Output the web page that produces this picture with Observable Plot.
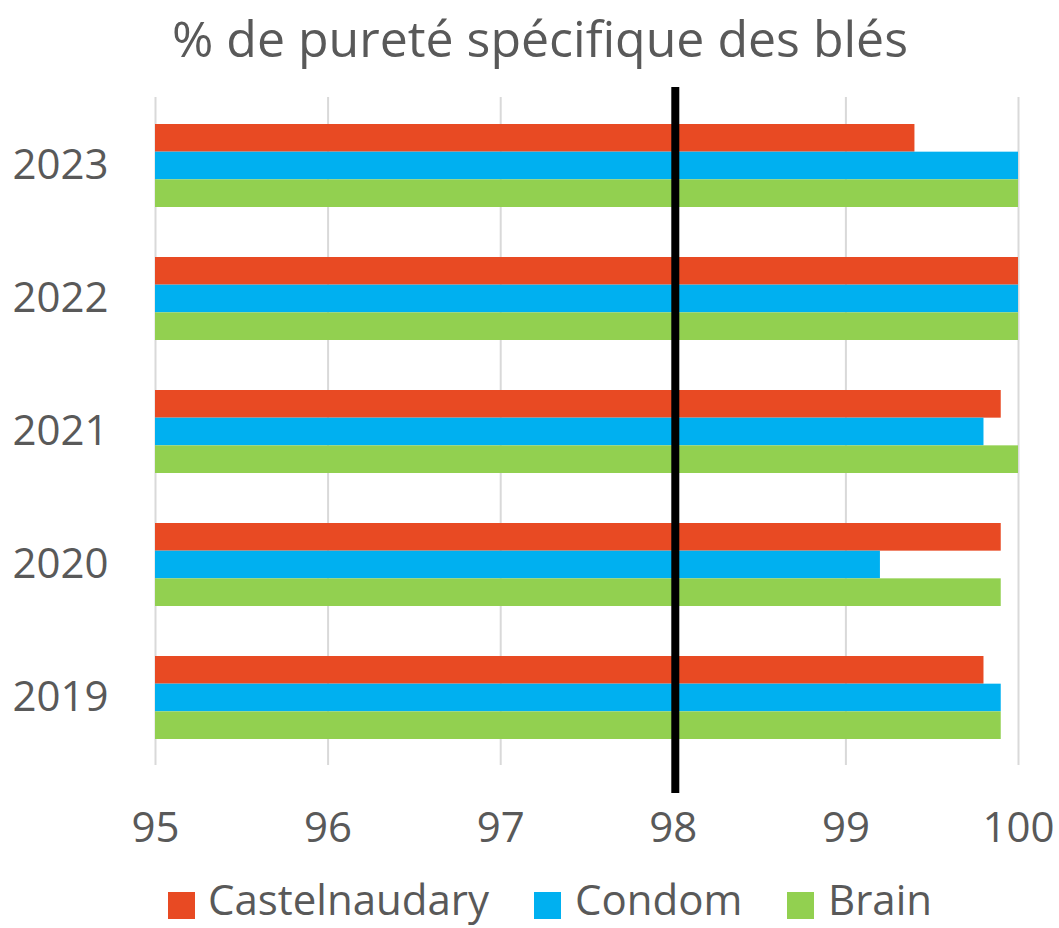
<!DOCTYPE html>
<html>
<head>
<meta charset="utf-8">
<script src="https://cdn.jsdelivr.net/npm/d3@7"></script>
<script src="https://cdn.jsdelivr.net/npm/@observablehq/plot@0.6"></script>
<style>
  html, body { margin: 0; padding: 0; background: #fff; }
  body { width: 1059px; height: 928px; overflow: hidden; font-family: "Open Sans", sans-serif; color: #595959; position: relative; }
  #title { height: 80px; position: relative; }
  #title span { position: absolute; left: 540px; top: 4px; transform: translateX(-50%); font-size: 50px; white-space: nowrap; line-height: 68px; }
  #legend { position: absolute; top: 870px; left: 0; width: 1059px; height: 58px; }
  .item { position: absolute; top: 0; display: flex; align-items: flex-start; font-size: 42px; line-height: 57px; white-space: nowrap; }
  .sw { width: 27px; height: 27px; margin-top: 22px; }
</style>
</head>
<body>
<div id="title"><span>% de pureté spécifique des blés</span></div>
<div id="chart"></div>
<div id="legend"></div>
<script>
const years = ["2023", "2022", "2021", "2020", "2019"];
const series = ["Castelnaudary", "Condom", "Brain"];
const colors = ["#E84A23", "#00B0F0", "#92D050"];
const castelnaudary = [99.4, 100, 99.9, 99.9, 99.8];
const condom = [100, 100, 99.8, 99.2, 99.9];
const brain = [100, 100, 100, 99.9, 99.9];
const xTicks = [95, 96, 97, 98, 99, 100];
const threshold = 98;
const xMin = 95, xMax = 100;

const valuesBySeries = [castelnaudary, condom, brain];

const W = 1059, H = 780, mT = 18, mB = 96, mL = 155, mR = 41;
const padInner = 0.377, padOuter = 0.1876;
const band = d3.scaleBand(years, [mT, H - mB]).paddingInner(padInner).paddingOuter(padOuter);
const bw = band.bandwidth();
const barH = bw / series.length;

const barMarks = series.map((s, j) => {
  const rows = years.map((yr, i) => ({year: yr, series: s, value: valuesBySeries[j][i]}));
  return Plot.barX(rows, {
    y: "year", x1: () => xMin, x2: "value", fill: "series",
    insetTop: j * barH, insetBottom: (series.length - 1 - j) * barH
  });
});

const plot = Plot.plot({
  width: W,
  height: H,
  marginTop: mT,
  marginBottom: mB,
  marginLeft: mL,
  marginRight: mR,
  style: {fontFamily: "'Open Sans', sans-serif", fontSize: "42px", color: "#595959", background: "white", overflow: "visible"},
  x: {domain: [xMin, xMax], ticks: xTicks, tickSize: 0, tickPadding: 48, label: null, tickFormat: d => String(d)},
  y: {domain: years, paddingInner: padInner, paddingOuter: padOuter, label: null, tickSize: 0, tickPadding: 47},
  color: {domain: series, range: colors},
  marks: [
    Plot.gridX(xTicks, {stroke: "#d9d9d9", strokeOpacity: 1, strokeWidth: 2, insetTop: -1, insetBottom: -1}),
    ...barMarks,
    Plot.ruleX([threshold], {stroke: "black", strokeWidth: 8, dx: 2, insetTop: -11, insetBottom: -29})
  ]
});
document.getElementById("chart").appendChild(plot);

const legendPos = [{sw: 168, tx: 208}, {sw: 534, tx: 575}, {sw: 787, tx: 828}];
const legend = document.getElementById("legend");
series.forEach((s, i) => {
  const item = document.createElement("div");
  item.className = "item";
  item.style.left = legendPos[i].sw + "px";
  const sw = document.createElement("div");
  sw.className = "sw";
  sw.style.background = colors[i];
  sw.style.marginRight = (legendPos[i].tx - legendPos[i].sw - 27) + "px";
  const t = document.createElement("span");
  t.textContent = s;
  item.appendChild(sw);
  item.appendChild(t);
  legend.appendChild(item);
});
</script>
</body>
</html>
